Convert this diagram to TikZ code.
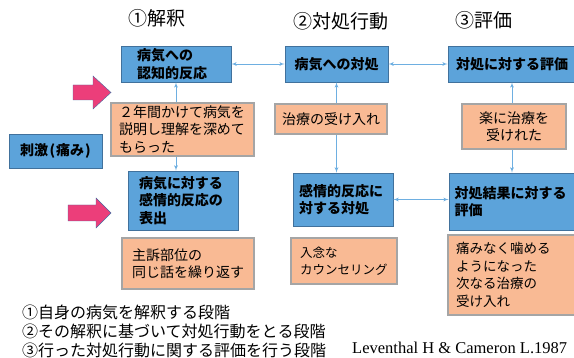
\documentclass[tikz,border=0pt]{standalone}
\usepackage{fontspec}
\setmainfont{Noto Sans CJK JP}
\newfontfamily\citefont{Liberation Serif}
\usepackage{tikz}
\usetikzlibrary{arrows}

\definecolor{boxblue}{RGB}{92,163,218}
\definecolor{boxedge}{RGB}{65,113,156}
\definecolor{notefill}{RGB}{249,186,148}
\definecolor{notegray}{RGB}{165,165,165}
\definecolor{linkblue}{RGB}{110,175,225}
\definecolor{pushpink}{RGB}{236,62,122}
\definecolor{pushedge}{RGB}{70,105,160}

\begin{document}
\begin{tikzpicture}[x=1pt, y=-1pt, >=latex', font=\fontsize{14}{17.5}\selectfont]

    \tikzstyle{every node}=[inner sep=0pt]
    \tikzstyle{stage}=[font=\fontsize{19}{22}\selectfont]
    \tikzstyle{blue box}=[draw=boxedge, fill=boxblue, line width=0.8pt, align=left, font=\fontsize{14}{17.5}\selectfont\bfseries]
    \tikzstyle{note box}=[draw=notegray, fill=notefill, line width=1.6pt, align=left]
    \tikzstyle{link}=[<->, draw=linkblue, line width=0.8pt]
    \tikzstyle{push}=[fill=pushpink, draw=pushedge, line width=0.4pt]

    \useasboundingbox (0,0) rectangle (574,358);

    \node[stage] (t1) at (157,18) {①解釈};
    \node[stage] (t2) at (341,21) {②対処行動};
    \node[stage] (t3) at (484,20) {③評価};

    \node[blue box, minimum width=110, minimum height=36, text width=78]  (b1) at (176,64)    {病気への\\認知的反応};
    \node[blue box, minimum width=103, minimum height=36, align=center]   (b2) at (336.5,64)  {病気への対処};
    \node[blue box, minimum width=128, minimum height=36, align=center]   (b3) at (512,64)    {対処に対する評価};
    \node[blue box, minimum width=93, minimum height=34, align=center]    (stim) at (55.5,151) {刺激\kern1.5pt(\kern1pt痛み\kern1pt)};
    \node[blue box, minimum width=110, minimum height=59, text width=88]  (b4) at (183,200.5)  {病気に対する\\感情的反応の\\表出};
    \node[blue box, minimum width=100, minimum height=53, text width=88]  (b5) at (343,199.5)  {感情的反応に\\対する対処};
    \node[blue box, minimum width=127, minimum height=57, text width=116] (b6) at (512.5,201.5) {対処結果に対する\\評価};

    \path (b1.east) edge[link] (b2.west)
          (b2.east) edge[link] (b3.west)
          (b5.east) edge[link] (b5.east -| b6.west)
          (b1.south) edge[link] (b1.south |- b4.north)
          (b2.south) edge[link] (b2.south |- b5.north)
          (b3.south) edge[link] (b3.south |- b6.north)
    ;

    \node[note box, minimum width=143, minimum height=53, text width=127] (n1) at (182.5,129.5) {２年間かけて病気を\\説明し理解を深めて\\もらった};
    \node[note box, minimum width=112, minimum height=30, align=center]  (n2) at (331,119)    {治療の受け入れ};
    \node[note box, minimum width=104, minimum height=45, align=center]  (n3) at (514,126.5)  {楽に治療を\\受けれた};
    \node[note box, minimum width=132, minimum height=51, text width=112] (n4) at (188,263.5) {主訴部位の\\同じ話を繰り返す};
    \node[note box, minimum width=106, minimum height=46, text width=88, font=\fontsize{12.5}{17}\selectfont] (n5) at (344,261) {入念な\\カウンセリング};
    \node[note box, minimum width=128, minimum height=80, text width=112, font=\fontsize{13.5}{17.5}\selectfont] (n6) at (512,275) {痛みなく噛める\\ようになった\\次なる治療の\\受け入れ};

    % pink arrows
    \draw[push] (73,85) -- (93,85) -- (93,76) -- (111,92.5) -- (93,109) -- (93,100) -- (73,100) -- cycle;
    \draw[push] (68,205) -- (96,205) -- (96,198) -- (111,213) -- (96,228) -- (96,221) -- (68,221) -- cycle;

    \node[anchor=west, align=left, font=\fontsize{16}{19}\selectfont] (steps) at (22,331) {①自身の病気を解釈する段階\\②その解釈に基づいて対処行動をとる段階\\③行った対処行動に関する評価を行う段階};
    \node[anchor=base west, font=\citefont\fontsize{16.5}{18}\selectfont] (cite) at (352,354) {Leventhal H \& Cameron L.1987};

\end{tikzpicture}
\end{document}
